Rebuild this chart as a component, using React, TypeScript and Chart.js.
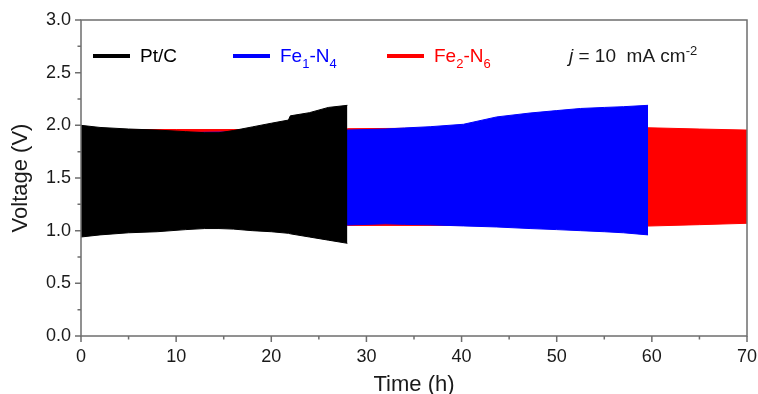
import React, { useEffect, useRef } from 'react';
import { Chart, registerables } from 'chart.js';

Chart.register(...registerables);

// ---- Data (envelopes of the charge/discharge voltage bands) ----
const ptcTime = [0, 2, 5, 8, 11, 13, 14.5, 16, 18, 20, 21.8, 22, 24, 26, 28];
const ptcUpper = [2.0, 1.98, 1.965, 1.955, 1.94, 1.93, 1.93, 1.95, 1.985, 2.02, 2.05, 2.09, 2.12, 2.17, 2.19];
const ptcLower = [0.94, 0.96, 0.98, 0.99, 1.01, 1.02, 1.02, 1.015, 1.0, 0.99, 0.975, 0.97, 0.94, 0.91, 0.88];

const feN4Time = [0, 10, 14, 20, 28, 32, 34, 36.7, 40.2, 43.7, 47.2, 50, 52.5, 55, 57, 59.6];
const feN4Upper = [1.93, 1.93, 1.935, 1.94, 1.955, 1.965, 1.975, 1.987, 2.01, 2.08, 2.117, 2.14, 2.16, 2.17, 2.177, 2.19];
const feN4Lower = [1.06, 1.06, 1.06, 1.06, 1.054, 1.065, 1.06, 1.055, 1.045, 1.035, 1.02, 1.01, 1.0, 0.99, 0.98, 0.96];

const feN6Time = [0, 10, 20, 28, 40, 50, 59.6, 65, 70];
const feN6Upper = [1.96, 1.96, 1.96, 1.968, 1.975, 1.98, 1.977, 1.965, 1.955];
const feN6Lower = [1.06, 1.06, 1.06, 1.05, 1.05, 1.05, 1.044, 1.057, 1.07];

const xMajorTicks = [0, 10, 20, 30, 40, 50, 60, 70];
const xMinorTicks = [5, 15, 25, 35, 45, 55, 65];
const yMajorTicks = [0, 0.5, 1.0, 1.5, 2.0, 2.5, 3.0];
const yMinorTicks = [0.25, 0.75, 1.25, 1.75, 2.25, 2.75];

const FONT = 'Arial, "Liberation Sans", Helvetica, sans-serif';
const AXIS_COLOR = '#6e6e6e';
const TEXT_COLOR = '#1a1a1a';

type Part = { t: string; size?: number; dy?: number; italic?: boolean };

function drawRich(ctx: CanvasRenderingContext2D, parts: Part[], x: number, y: number, color: string) {
  ctx.fillStyle = color;
  ctx.textBaseline = 'alphabetic';
  ctx.textAlign = 'left';
  let cx = x;
  for (const p of parts) {
    const size = p.size ?? 19;
    ctx.font = `${p.italic ? 'italic ' : ''}${size}px ${FONT}`;
    ctx.fillText(p.t, cx, y + (p.dy ?? 0));
    cx += ctx.measureText(p.t).width;
  }
}

const framePlugin = {
  id: 'frameAndLegend',
  afterDraw(chart: any) {
    const { ctx, chartArea: a, scales } = chart;
    const xs = scales.x;
    const ys = scales.y;
    ctx.save();
    ctx.strokeStyle = AXIS_COLOR;
    ctx.lineWidth = 1.5;
    ctx.strokeRect(a.left, a.top, a.right - a.left, a.bottom - a.top);
    ctx.beginPath();
    for (const v of xMajorTicks) {
      const p = xs.getPixelForValue(v);
      ctx.moveTo(p, a.bottom);
      ctx.lineTo(p, a.bottom + 6);
    }
    for (const v of xMinorTicks) {
      const p = xs.getPixelForValue(v);
      ctx.moveTo(p, a.bottom);
      ctx.lineTo(p, a.bottom + 3.5);
    }
    for (const v of yMajorTicks) {
      const p = ys.getPixelForValue(v);
      ctx.moveTo(a.left, p);
      ctx.lineTo(a.left - 6, p);
    }
    for (const v of yMinorTicks) {
      const p = ys.getPixelForValue(v);
      ctx.moveTo(a.left, p);
      ctx.lineTo(a.left - 3.5, p);
    }
    ctx.stroke();

    // legend
    const ly = a.top + 36;
    const items = [
      { dx: 12, color: '#000000', parts: [{ t: 'Pt/C' }] as Part[] },
      { dx: 152, color: '#0000ff', parts: [{ t: 'Fe' }, { t: '1', size: 13, dy: 6 }, { t: '-N' }, { t: '4', size: 13, dy: 6 }] as Part[] },
      { dx: 306, color: '#ff0000', parts: [{ t: 'Fe' }, { t: '2', size: 13, dy: 6 }, { t: '-N' }, { t: '6', size: 13, dy: 6 }] as Part[] },
    ];
    for (const it of items) {
      const x0 = a.left + it.dx;
      ctx.strokeStyle = it.color;
      ctx.lineWidth = 4;
      ctx.beginPath();
      ctx.moveTo(x0, ly);
      ctx.lineTo(x0 + 37, ly);
      ctx.stroke();
      drawRich(ctx, it.parts, x0 + 47, ly + 6, it.color);
    }
    drawRich(
      ctx,
      [
        { t: 'j', italic: true },
        { t: ' = 10  mA cm' },
        { t: '-2', size: 13, dy: -7 },
      ],
      a.left + 488,
      ly + 6,
      TEXT_COLOR
    );
    ctx.restore();
  },
};

function band(label: string, t: number[], up: number[], lo: number[], color: string) {
  return [
    {
      label: label,
      data: t.map((x, i) => ({ x, y: up[i] })),
      borderColor: color,
      backgroundColor: color,
      borderWidth: 1,
      pointRadius: 0,
      tension: 0,
      fill: '+1',
    },
    {
      label: label + ' lower',
      data: t.map((x, i) => ({ x, y: lo[i] })),
      borderColor: color,
      backgroundColor: color,
      borderWidth: 1,
      pointRadius: 0,
      tension: 0,
      fill: false,
    },
  ];
}

export default function App() {
  const ref = useRef<HTMLCanvasElement | null>(null);
  useEffect(() => {
    if (!ref.current) return;
    const font = { family: FONT, size: 18 };
    const titleFont = { family: FONT, size: 22 };
    const chart = new Chart(ref.current, {
      type: 'line',
      data: {
        datasets: [
          ...band('Pt/C', ptcTime, ptcUpper, ptcLower, '#000000'),
          ...band('Fe1-N4', feN4Time, feN4Upper, feN4Lower, '#0000ff'),
          ...band('Fe2-N6', feN6Time, feN6Upper, feN6Lower, '#ff0000'),
        ] as any,
      },
      options: {
        animation: false,
        responsive: false,
        maintainAspectRatio: false,
        layout: { padding: { top: 20, right: 11, left: 0, bottom: 0 } },
        plugins: {
          legend: { display: false },
          tooltip: { enabled: false },
          filler: { propagate: false },
        },
        scales: {
          x: {
            type: 'linear',
            min: 0,
            max: 70,
            ticks: { stepSize: 10, font, color: TEXT_COLOR, padding: 10, maxRotation: 0 },
            grid: { display: false, drawTicks: false },
            border: { display: false },
            title: { display: true, text: 'Time (h)', font: titleFont, color: TEXT_COLOR, padding: { top: 0, bottom: -4 } },
            afterFit: (s: any) => {
              s.height = 58;
              s.paddingLeft = 0;
              s.paddingRight = 0;
            },
          },
          y: {
            type: 'linear',
            min: 0,
            max: 3,
            ticks: {
              stepSize: 0.5,
              font,
              color: TEXT_COLOR,
              padding: 10,
              callback: (v: any) => Number(v).toFixed(1),
            },
            grid: { display: false, drawTicks: false },
            border: { display: false },
            title: { display: true, text: 'Voltage (V)', font: titleFont, color: TEXT_COLOR, padding: { top: 7.5, bottom: 0 } },
            afterFit: (s: any) => {
              s.width = 81;
              s.paddingTop = 0;
              s.paddingBottom = 0;
            },
          },
        },
      } as any,
      plugins: [framePlugin],
    });
    return () => chart.destroy();
  }, []);
  return (
    <div style={{ position: 'absolute', left: 0, top: 0, width: 758, height: 394, background: '#fff' }}>
      <canvas ref={ref} width={758} height={394} style={{ display: 'block' }} />
    </div>
  );
}
